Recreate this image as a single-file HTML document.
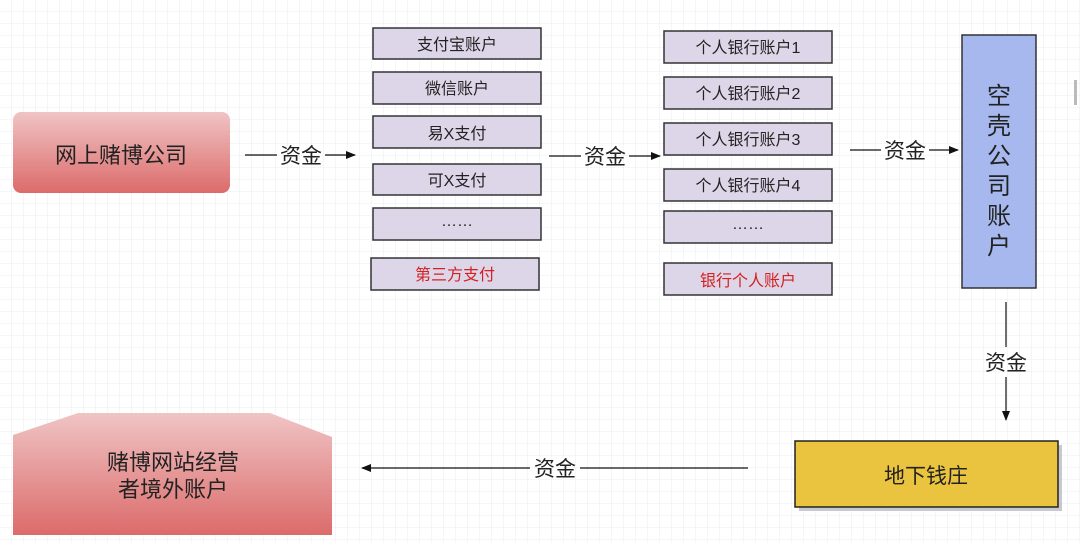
<!DOCTYPE html>
<html><head><meta charset="utf-8"><style>
html,body{margin:0;padding:0;width:1080px;height:543px;overflow:hidden;background:#fff}
text{font-family:"Liberation Sans","Noto Sans CJK SC",sans-serif}
</style></head><body>
<svg width="1080" height="543" viewBox="0 0 1080 543" xmlns="http://www.w3.org/2000/svg">
<defs>
<pattern id="g" width="12" height="12" patternUnits="userSpaceOnUse"><path d="M12 0V12H0" fill="none" stroke="#e9edf2" stroke-width="1"/></pattern>
<linearGradient id="r" x1="0" y1="0" x2="0" y2="1"><stop offset="0" stop-color="#f0c4c4"/><stop offset="1" stop-color="#dc6b6b"/></linearGradient>
<marker id="a" markerWidth="10" markerHeight="8" refX="9" refY="4" orient="auto" markerUnits="userSpaceOnUse"><path d="M0 0L10 4L0 8z" fill="#111"/></marker>
</defs>
<rect width="1080" height="543" fill="url(#g)"/>
<rect x="13" y="112" width="217" height="81" rx="8" fill="url(#r)"/>
<text x="121" y="163" font-size="22" text-anchor="middle" fill="#222">网上赌博公司</text>
<polygon points="13,435 78,413 270,413 332,437 332,535 13,535" fill="url(#r)"/>
<text x="173" y="470" font-size="22" text-anchor="middle" fill="#222">赌博网站经营</text>
<text x="173" y="497" font-size="22" text-anchor="middle" fill="#222">者境外账户</text>
<g stroke="#333" stroke-width="1.5" fill="#ddd6e8">
<rect x="373" y="28" width="168" height="31"/><rect x="373" y="72" width="168" height="32"/>
<rect x="373" y="116" width="168" height="32"/><rect x="373" y="164" width="168" height="31"/>
<rect x="373" y="208" width="168" height="32"/><rect x="371" y="258" width="168" height="32"/>
<rect x="664" y="31" width="168" height="32"/><rect x="664" y="77" width="168" height="32"/>
<rect x="664" y="123" width="168" height="32"/><rect x="664" y="169" width="168" height="32"/>
<rect x="664" y="211" width="168" height="32"/><rect x="664" y="263" width="168" height="32"/>
</g>
<g font-size="16" text-anchor="middle" fill="#222">
<text x="457" y="50">支付宝账户</text><text x="457" y="94">微信账户</text>
<text x="457" y="139">易X支付</text><text x="457" y="186">可X支付</text>
<text x="457" y="226">……</text><text x="455" y="280" fill="#d42020">第三方支付</text>
<text x="748" y="53">个人银行账户1</text><text x="748" y="99">个人银行账户2</text>
<text x="748" y="145">个人银行账户3</text><text x="748" y="191">个人银行账户4</text>
<text x="748" y="229">……</text><text x="748" y="286" fill="#d42020">银行个人账户</text>
</g>
<rect x="962" y="35" width="74" height="253" fill="#a6b8ee" stroke="#333" stroke-width="1.5"/>
<g font-size="24" text-anchor="middle" fill="#222">
<text x="999" y="104">空</text><text x="999" y="134">壳</text><text x="999" y="164">公</text><text x="999" y="194">司</text><text x="999" y="224">账</text><text x="999" y="254">户</text>
</g>
<rect x="799" y="445" width="263" height="66" fill="#c8c8d0"/>
<rect x="795" y="441" width="263" height="66" fill="#ebc43f" stroke="#222" stroke-width="1.5"/>
<text x="926" y="483" font-size="21" text-anchor="middle" fill="#222">地下钱庄</text>
<g stroke="#111" stroke-width="1.2" fill="none">
<line x1="245" y1="155" x2="277" y2="155"/><line x1="325" y1="155" x2="355" y2="155" marker-end="url(#a)"/>
<line x1="549" y1="156" x2="581" y2="156"/><line x1="629" y1="156" x2="660" y2="156" marker-end="url(#a)"/>
<line x1="850" y1="150" x2="881" y2="150"/><line x1="929" y1="150" x2="958" y2="150" marker-end="url(#a)"/>
<line x1="1006" y1="302" x2="1006" y2="347"/><line x1="1006" y1="377" x2="1006" y2="420" marker-end="url(#a)"/>
<line x1="748" y1="468" x2="580" y2="468"/><line x1="530" y1="468" x2="362" y2="468" marker-end="url(#a)"/>
</g>
<g font-size="21" text-anchor="middle" fill="#222">
<text x="301" y="163">资金</text><text x="605" y="164">资金</text><text x="905" y="158">资金</text>
<text x="1006" y="370">资金</text><text x="555" y="476">资金</text>
</g>
<rect x="1074" y="80" width="3" height="25" fill="#bbb"/>
</svg>
</body></html>
